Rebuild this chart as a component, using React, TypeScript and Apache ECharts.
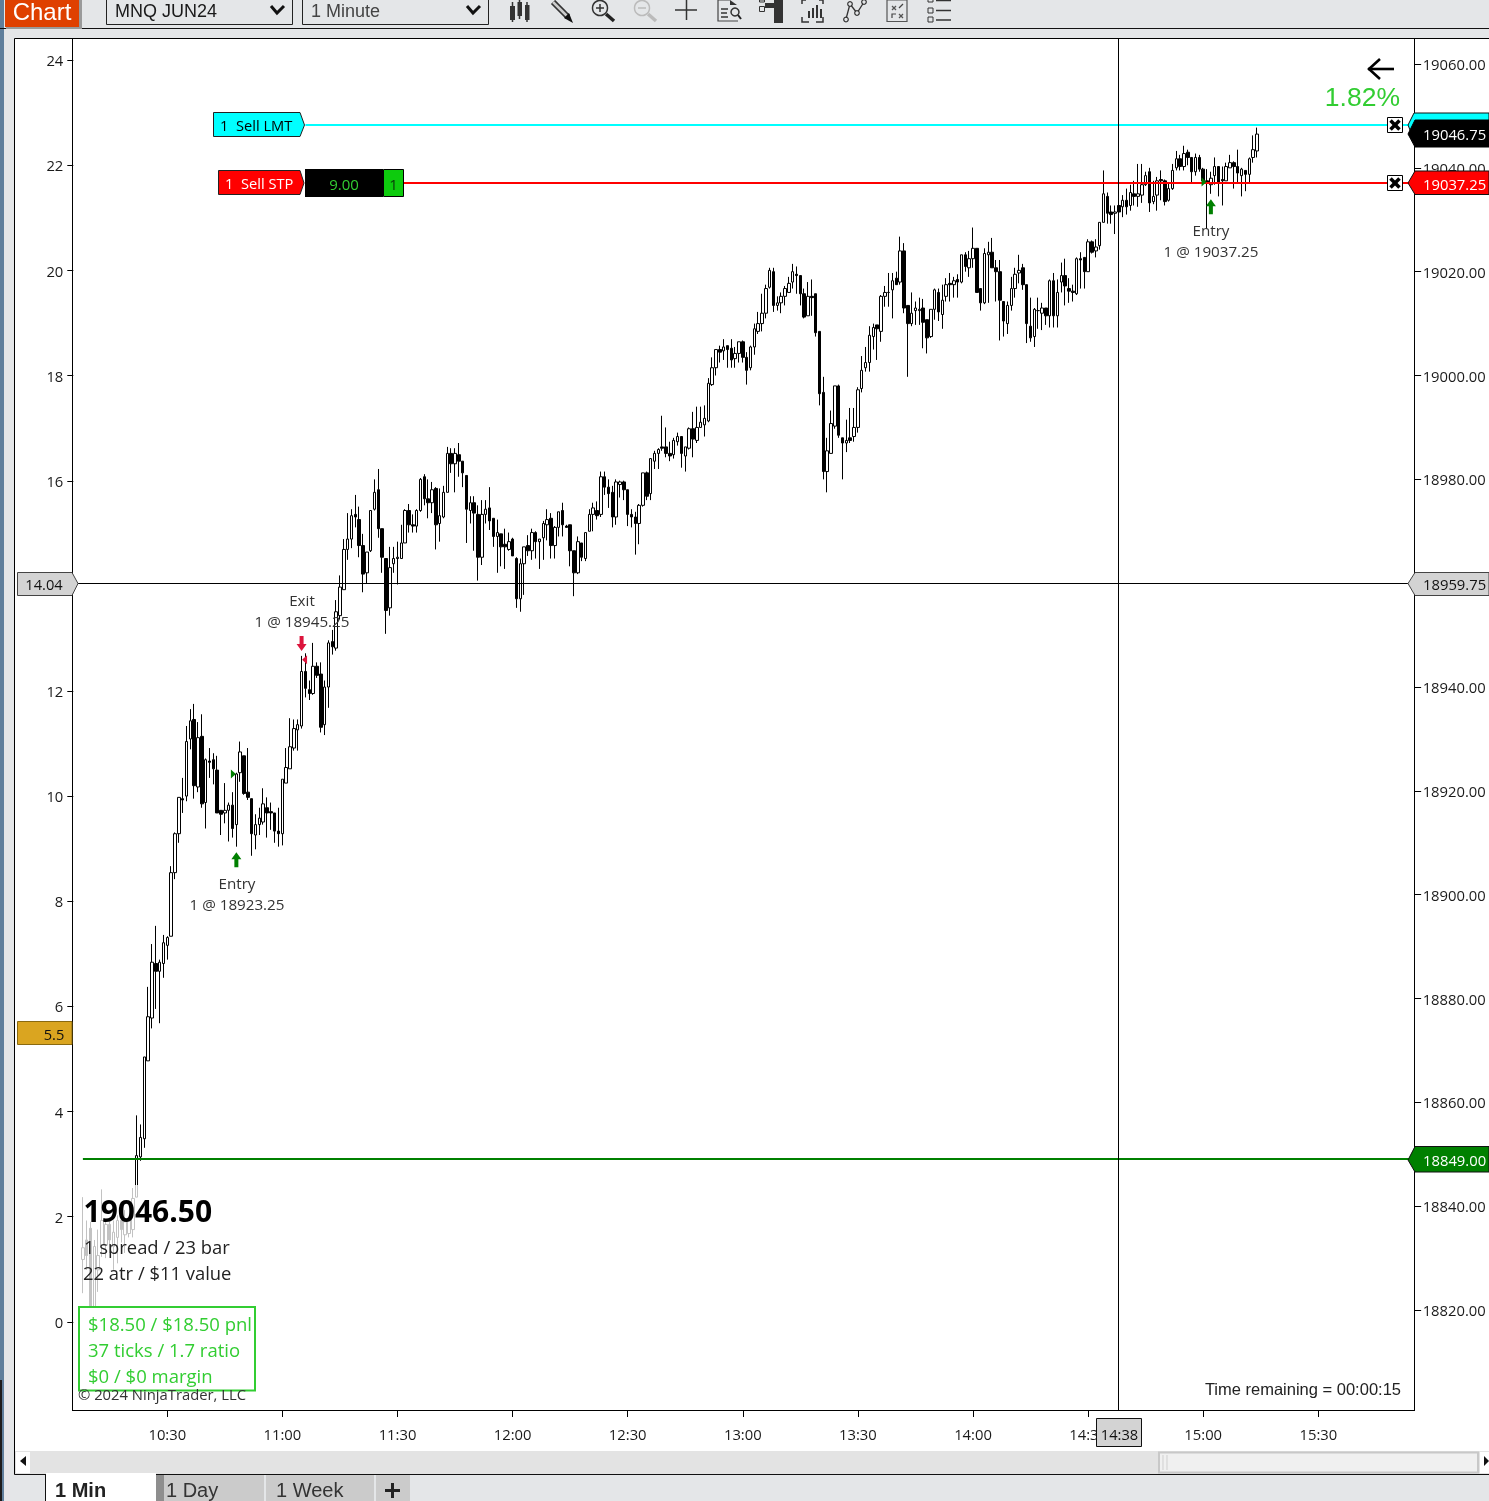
import React, { useEffect, useRef } from "react";
import * as echarts from "echarts";

const opens = [18829.75,18833.5,18835.75,18820,18827.75,18832.5,18832.5,18836.5,18832.25,18834,
18837.25,18834.5,18834.75,18835.5,18841.75,18849.5,18853,18868,18876.25,18886.75,
18885.25,18886.75,18890.25,18892,18904.25,18911.75,18918.5,18919,18930,18933.75,
18920.75,18930.5,18917.75,18925.75,18926,18924,18916.25,18915.75,18916.25,18917.25,
18913.5,18923.5,18926.75,18919.75,18918.5,18911.5,18913.5,18914,18916.75,18916,
18915.75,18912.25,18911.75,18921.5,18924.25,18928.25,18931.75,18932.5,18943,18939.5,
18938.75,18944,18942.5,18932.75,18940,18948.75,18947.5,18953.75,18958.75,18966.5,
18968.5,18973.25,18972.25,18967.25,18962,18966.25,18974.25,18978,18970.5,18964.75,
18955.25,18963.75,18964.75,18964.75,18967.75,18974,18971.25,18971,18974,18980.5,
18976.25,18975.5,18978.25,18971.5,18972.75,18977.5,18985,18983,18984.75,18983.5,
18980.75,18974,18975.5,18973.25,18965,18973.25,18974.5,18972.5,18969,18969.5,
18967.5,18966.5,18968.5,18964.75,18957,18963.75,18967.25,18966.25,18969.75,18968,
18968.75,18971.25,18972.5,18967.25,18970.75,18974,18971,18971.25,18966.25,18962,
18967.75,18964.75,18970,18973.25,18974,18973.25,18980.5,18978.5,18977.5,18972.75,
18979,18979.5,18978,18973.25,18972.75,18971.5,18975,18981.25,18977.25,18983.5,
18985,18986.25,18986.25,18985,18984.75,18987.25,18988.25,18984.5,18986,18989.75,
18987.5,18990,18990.5,18991.25,18998.25,19001.5,19005,19004.75,19005.75,19005.25,
19003.25,19004.25,19006.5,19003.5,19001.5,19005.5,19008.5,19010,19012,19017,
19020,19013.5,19014,19015.25,19016,19018,19019.5,19019.25,19015.75,19011.5,
19015.25,19015.75,19008.5,18996.75,18981.5,18985,18990.25,18998,18988,18987,
18988,18988.25,18990,18997.5,19001.5,19002.5,19007.5,19009.75,19008.5,19015.25,
19016,19016.5,19018.75,19018,19024,19013.5,19010,19012.5,19012.5,19013,
19010.75,19007.5,19012.75,19016,19011.75,19015.25,19017.75,19017.5,19018.5,19018,
19023.25,19020.75,19022.5,19024.5,19016.75,19014,19023.25,19023.75,19020.75,19020,
19014.25,19010,19013.5,19016.75,19019.75,19020.75,19017.5,19009.5,19007.5,19012.5,
19012,19013,19011.5,19018.25,19011.5,19018,19019.25,19016.75,19016.25,19015.75,
19022.5,19022.75,19020,19025.75,19024,19025,19029.5,19034.5,19031.5,19031.25,
19032.75,19032.5,19033.75,19032.75,19035,19034.5,19034.75,19036.75,19039.25,19033.5,
19034.75,19037.75,19037.5,19033.75,19036,19040,19041.75,19040.25,19043,19042,
19039.25,19042,19039.75,19037.5,19036.75,19038.5,19040.25,19037.75,19037.5,19040,
19041,19040.25,19038.5,19039.5,19038.75,19042,19043.25];

const closes = [18832,18830.5,18820,18832.25,18830.5,18837.25,18836.5,18833.5,18835,18837.25,
18835.5,18837,18837.25,18841.5,18849.75,18853.25,18868.75,18876.5,18887,18885.25,
18887,18890.75,18891.75,18904.25,18911.75,18918.75,18918.25,18929.5,18933.5,18921,
18930.25,18917.5,18926,18925.5,18924.25,18915.75,18915.5,18916.25,18917.25,18912.75,
18923.25,18927.5,18919.5,18918.75,18911.75,18913.5,18914.75,18917.5,18915.75,18915.75,
18912.25,18911.75,18922.25,18924.5,18928.5,18932,18932.75,18943,18939.75,18938.75,
18944,18942.25,18932.25,18940,18948.5,18947.75,18954.5,18959.25,18966.5,18968.5,
18973,18972.75,18967.25,18961.75,18966,18974,18977.5,18970.5,18965,18954.75,
18963,18964.75,18965,18967.75,18974,18971.25,18971,18974,18980,18976.25,
18975.5,18978,18971.25,18973,18977.5,18985,18983,18985,18983.5,18981.25,
18974.25,18975.5,18973.5,18965,18973.25,18974.25,18972,18969,18969.75,18967,
18967,18968,18965.25,18957,18963.75,18967,18966.25,18969.75,18968,18968.5,
18971.5,18972.25,18967.25,18970.75,18973.75,18971.25,18970.75,18966.25,18962,18968,
18965,18969.75,18973.25,18974.5,18973,18980.5,18978.5,18977.25,18972.75,18979.5,
18979.5,18978,18973.25,18972.75,18971.5,18975,18981.25,18976.75,18984,18985,
18985.75,18986,18985,18984.5,18987.5,18988.25,18985,18986.25,18989.75,18987.75,
18990,18991,18991.75,18998.5,19001.5,19005,19004.5,19005.5,19005,19003,
19004.25,19006.5,19003.5,19001,19005.5,19009,19010,19012,19016.75,19020.25,
19013.5,19014,19015.25,19016.75,19017.75,19020,19019.25,19015.75,19011.25,19015.25,
19015,19008.25,18996.5,18981.5,18985.5,18990.75,18998,18988.5,18987,18987.5,
18987.5,18990,18997.25,19001,19002.5,19007.75,19009.25,19009,19015.25,19016,
19016,19018.25,19017.5,19024,19013,19010,19012,19013,19012.75,19010.25,
19007.25,19012.75,19016.5,19012.25,19014.5,19017.5,19017.5,19018.25,19018,19023.25,
19021,19022.5,19024.5,19016,19014,19023.5,19023.75,19020.75,19020,19014.5,
19010.5,19013.5,19016.75,19019.5,19020.25,19017.5,19010,19007.25,19012.75,19012.5,
19013,19011.5,19018.25,19011.5,19016,19019.25,19017.25,19016.25,19016,19022.5,
19022.25,19020,19025.75,19023.75,19024.75,19029.5,19035,19031.25,19031,19031.5,
19031.5,19033.75,19032.5,19035.25,19034.5,19035,19036.75,19038.5,19033.25,19034.5,
19037.5,19037.5,19033.5,19036,19039.5,19041.75,19040.25,19042.75,19042,19039.25,
19042,19039.75,19037.5,19037,19038,19040.25,19037.25,19037.5,19040.25,19041,
19040.25,19039,19039.75,19038.75,19041.75,19043.5,19046.5];

const lows = [18823.25,18827.75,18817,18818,18823.5,18830.25,18830,18831,18827.75,18829,
18833,18831,18834,18834,18841.75,18848.75,18851.25,18868,18874.25,18878,
18875.25,18884,18887.5,18892,18903,18910,18915.75,18918,18928,18918.5,
18919.75,18916.75,18912.75,18922.5,18921.25,18915.75,18911.5,18913.75,18910.25,18911,
18909.25,18921.75,18919.25,18918.25,18907.5,18908.75,18911.5,18913.5,18911,18912.5,
18910,18909.25,18909.5,18921.5,18924.25,18927.75,18927.75,18932,18938,18937.5,
18938.5,18941.75,18931.25,18930.75,18936,18946.25,18947,18953,18958.75,18964.5,
18966.75,18970.75,18965,18958.25,18960,18966,18974,18968.75,18962,18950.25,
18953.75,18962,18959.75,18964.75,18967.75,18969.75,18969.75,18969.75,18973.75,18975,
18972.5,18973.5,18966.5,18968,18972.5,18977.5,18981.25,18977.5,18980.5,18978.5,
18967.75,18971.5,18966.25,18960.5,18963.5,18971.5,18970.25,18967,18962,18963.25,
18962.75,18966.25,18965.25,18955.25,18954.5,18957.75,18965.25,18964.5,18964.75,18962.75,
18964.5,18968.25,18964.75,18964.75,18969,18969,18970.75,18963.25,18957.5,18961.75,
18964.25,18964.25,18970,18970,18972.25,18972.75,18977,18974.5,18970.75,18971.25,
18976.5,18976,18971,18970.75,18965.5,18967.5,18974.75,18976,18976,18982,
18982,18985.5,18984.25,18983.5,18984,18986.5,18982.25,18981.5,18985.75,18984.25,
18987,18990,18988.25,18991,18998,19000,19002.5,19003,19001.5,19001.5,
19001.5,19002.5,19002.5,18998.25,19001,19004,19008,19008.5,19011,19016.75,
19012.25,19012.5,19012,19013.5,19016,19016.75,19015.75,19013.5,19011,19011.5,
19011.5,19007.5,18994.25,18980,18977.5,18985,18989.75,18988,18980,18985.25,
18987,18987.25,18989,18996.75,19000.75,19000.75,19005,19003,19006.5,19013.25,
19013.25,19011,19017.5,19017.5,19012,18999.75,19009.5,19009.75,19009.75,19005.25,
19004.25,19007.25,19010.75,19010.5,19009,19014.25,19014.25,19015,19015,19017.75,
19020,19019,19020.75,19016,19012.5,19013.75,19014,19020.75,19014.25,19006.75,
19007.5,19008,19012.5,19015,19017.75,19016.5,19006.25,19006.5,19005.5,19009,
19008.75,19009.75,19009.25,19009.25,19009.25,19016,19013.5,19014,19014.25,19015.5,
19016.75,19016.75,19020,19023.5,19022.75,19024.25,19029.5,19029.25,19029.25,19027.25,
19031,19030.5,19031,19031.75,19032.75,19032.5,19033.25,19036.5,19031.5,19033,
19031.75,19033.75,19032.75,19033.5,19035.75,19039.5,19039.5,19039.5,19040.5,19037.25,
19038.5,19039.25,19037.25,19028.25,19035,19036.75,19034.5,19032.75,19037.5,19040,
19036,19037,19034.5,19035.5,19037,19041,19042];

const highs = [18841.75,18837.25,18837,18833.5,18835.5,18843.25,18837.25,18837.25,18837.25,18838.25,
18839.75,18839.25,18838,18843.5,18857.5,18855.75,18868.75,18882.25,18890.5,18894,
18887.5,18892.25,18892,18905.5,18912,18918.75,18922.5,18932.5,18935.75,18936.75,
18933.25,18934.75,18926.25,18928.25,18927.25,18926.75,18916.25,18921.5,18917.75,18919.75,
18923.5,18929.5,18926.75,18928.25,18918.5,18915.5,18916.75,18920.5,18918.75,18917.75,
18915.75,18916.75,18922.25,18928.25,18934,18933.75,18933.75,18946,18946.5,18941.25,
18948.5,18944.75,18944.75,18941.25,18949,18951,18956.75,18961.5,18968.5,18973.5,
18974.25,18977,18974.75,18969.5,18966,18974,18980,18982,18970.5,18964.75,
18967,18967,18968,18971.25,18974.25,18975.25,18973.25,18974.25,18980.25,18981,
18980,18979.5,18978.5,18978.25,18978.75,18986.25,18986,18986,18987,18983.5,
18980.75,18976.75,18976.75,18975,18976,18976,18978.5,18972.5,18972.25,18969.5,
18970.5,18969.75,18968.75,18965,18964.75,18967,18969.25,18970.5,18970,18968.5,
18972,18974.25,18973.5,18971,18973.75,18975.5,18971.25,18971.25,18966.25,18969,
18967.75,18969.75,18974.25,18975.5,18975.75,18981.5,18981.5,18980,18978.75,18980,
18979.75,18979.75,18978,18974.25,18973.75,18975.25,18981.25,18981.5,18984,18985.5,
18986,18992.25,18990,18987.25,18988,18989,18988.25,18986.25,18990,18993,
18994,18994,18994.25,18999.5,19003.5,19005,19005.75,19007,19005.75,19007,
19005.5,19006.5,19006.75,19004.5,19005.75,19010,19012.25,19015.75,19017.5,19020.75,
19020.75,19015.25,19016,19017.25,19019,19021.5,19021,19019.25,19016.75,19018,
19018.5,19015.75,19008.5,18999.75,18988,18993.25,18998,18998.25,18988,18991.5,
18993.75,18993.75,18997.75,19003.75,19005.5,19009.5,19010,19009.75,19015.5,19017.25,
19019.75,19019.75,19020,19026.75,19025.5,19013.5,19016,19014.25,19015,19014.75,
19010.75,19012.75,19016.75,19016.75,19017.5,19018.75,19019.75,19019,19019.5,19023.25,
19023.75,19024,19028.5,19024.5,19016.75,19024.5,19025.75,19026.5,19022.25,19022.25,
19014.25,19014.25,19019,19020.75,19023.25,19021.5,19017.5,19015,19013,19015,
19014,19013,19018.5,19019.75,19018.5,19021.75,19022.5,19018.75,19017.5,19022.75,
19023.75,19022.75,19026.25,19026,19026.25,19029.5,19039.5,19035.25,19032.75,19032.75,
19034,19034.75,19036,19036.75,19037.5,19040.75,19040.75,19039.25,19040,19037.5,
19038.25,19039.5,19037.75,19037,19040.75,19043.25,19042.5,19044.25,19043.5,19042,
19042.75,19042.5,19040,19039.75,19039.25,19042,19040.25,19040.25,19041,19042.5,
19041.25,19043.5,19040,19039.5,19042,19046.25,19047.75];

const priceTicks = [19060, 19040, 19020, 19000, 18980, 18960, 18940, 18920, 18900, 18880, 18860, 18840, 18820];
const indicatorTicks = [24, 22, 20, 18, 16, 14, 12, 10, 8, 6, 4, 2, 0];
const timeLabels = ["10:30", "11:00", "11:30", "12:00", "12:30", "13:00", "13:30", "14:00", "14:30", "15:00", "15:30"];

const limitPrice = 19048.25;
const stopPrice = 19037.1;
const levelPrice = 18849.2;

const entryArrows = [["10:48", 18906.75], ["15:02", 19032.5]];
const exitArrows = [["11:05", 18948.4]];
const entryTicks = [["10:48", 18923.25], ["15:01", 19037.25]];
const exitTicks = [["11:05", 18945.25]];

const pad = (n: number) => String(n).padStart(2, "0");
const categories: string[] = [];
for (let m = 10 * 60 + 6; m < 10 * 60 + 6 + 350; m++) categories.push(`${pad(Math.floor(m / 60))}:${pad(m % 60)}`);
const candles = opens.map((o, i) => [categories[i + 2], o, closes[i], lows[i], highs[i]]);

const UI = '"Open Sans"';
const ARIAL = '"Liberation Sans"';
const GREEN = "#32CD32";

const text = (t: string, x: number, y: number, size: number, fill: string, o: any = {}) => ({
  type: "text", z: o.z ?? 30, silent: true,
  style: {
    text: t, x, y, fill,
    font: `${o.weight ?? "normal"} ${size}px ${o.family ?? UI}`,
    textAlign: o.align ?? "left", textVerticalAlign: "middle",
  },
});
const rect = (x: number, y: number, width: number, height: number, fill: string, stroke?: string, z = 20, lineWidth = 1) => ({
  type: "rect", z, silent: true, shape: { x, y, width, height }, style: { fill, stroke: stroke ?? "none", lineWidth },
});
const line = (x1: number, y1: number, x2: number, y2: number, stroke: string, lineWidth = 1, z = 20) => ({
  type: "line", z, silent: true, shape: { x1, y1, x2, y2 }, style: { stroke, lineWidth },
});
const poly = (points: number[][], fill: string, stroke?: string, z = 20, lineWidth = 1) => ({
  type: "polygon", z, silent: true, shape: { points }, style: { fill, stroke: stroke ?? "none", lineWidth },
});
const pline = (points: number[][], stroke: string, lineWidth = 1, z = 20) => ({
  type: "polyline", z, silent: true, shape: { points }, style: { fill: "none", stroke, lineWidth },
});
const circle = (cx: number, cy: number, r: number, stroke: string, lineWidth = 1, fill = "none", z = 20) => ({
  type: "circle", z, silent: true, shape: { cx, cy, r }, style: { fill, stroke, lineWidth },
});

const closeBox = (x: number, y: number) => [
  rect(x + 0.5, y + 0.5, 15, 15, "#fff", "#000", 22, 1),
  line(x + 3.5, y + 3.5, x + 12.5, y + 12.5, "#000", 3.5, 23),
  line(x + 12.5, y + 3.5, x + 3.5, y + 12.5, "#000", 3.5, 23),
];

const background = [
  rect(0, 0, 1489, 1501, "#E4E6E8", undefined, -20),
  rect(0, 0, 4, 1501, "#5F7F9C", undefined, -19),
  rect(0, 1380, 2, 121, "#1c1c1c", undefined, -19),
  rect(14.5, 38.5, 1480, 1436, "#FFFFFF", "#000000", -18),
];

const frame = [
  line(72.5, 39, 72.5, 1411, "#000", 1, 6),
  line(1414.5, 39, 1414.5, 1411, "#000", 1, 6),
  line(72, 1410.5, 1415, 1410.5, "#000", 1, 6),
  // crosshair cursor
  line(1118.5, 39, 1118.5, 1410, "#000", 1, 6),
  line(73, 583.5, 1414, 583.5, "#000", 1, 6),
];

const toolbar = [
  rect(0, 28, 1489, 1, "#111", undefined, 10),
  rect(6, 0, 76, 29, "#9a9a9a", undefined, 11),
  rect(5, 0, 74, 27, "#DF4000", undefined, 12),
  text("Chart", 42, 11, 24, "#fff", { family: ARIAL, align: "center", z: 13 }),
  rect(106.5, -2, 186, 26.5, "#E4E6E8", "#222", 12),
  text("MNQ JUN24", 115, 11, 18, "#1a1a1a", { family: ARIAL }),
  pline([[271, 6], [277, 13], [284, 6]], "#111", 3, 13),
  rect(302.5, -2, 186, 26.5, "#E4E6E8", "#222", 12),
  text("1 Minute", 311, 11, 18, "#444", { family: ARIAL }),
  pline([[467, 6], [473, 13], [480, 6]], "#111", 3, 13),
  // candles icon
  line(512.5, 2, 512.5, 22, "#333", 1.5), rect(510, 6, 5, 14, "#333"),
  line(519.5, 0, 519.5, 19, "#333", 1.5), rect(517.5, 2, 4.5, 14, "#333"),
  line(527, 2, 527, 22, "#333", 1.5), rect(525, 5, 4.5, 15, "#333"),
  // pencil
  line(553, 2, 568, 17, "#333", 6), line(553, 2, 568, 17, "#ccc", 2.5), poly([[564, 18], [569, 13], [573, 23]], "#111"),
  // zoom in
  circle(600, 8, 7.5, "#333", 1.5), line(596, 8, 604, 8, "#333", 1.5), line(600, 4, 600, 12, "#333", 1.5), line(606, 14, 614, 21, "#222", 3.5),
  // zoom out
  circle(642, 8, 7.5, "#bbb", 1.5), line(638, 8, 646, 8, "#bbb", 1.5), line(648, 14, 656, 21, "#bbb", 3.5),
  // crosshair
  line(675, 10, 697, 10, "#333", 1.5), line(686.5, 0, 686.5, 20, "#333", 1.5),
  // doc search
  pline([[730, 0], [718, 0], [718, 21], [738, 21]], "#444", 1.2), line(721, 9, 728, 9, "#333", 1.5), line(721, 13, 727, 13, "#333", 1.5), line(721, 17, 728, 17, "#333", 1.5), circle(735, 12, 4, "#333", 1.5), line(738, 15, 741, 19, "#222", 2), poly([[730, 0], [737, 5], [730, 5]], "#333"),
  // structure
  rect(774, 0, 9, 23, "#333"), rect(765, 3, 9, 5, "#333"), rect(759.5, 6.5, 5, 5, "none", "#333"), rect(759.5, 0, 5, 2, "none", "#333"),
  // chart bars
  rect(812, 8, 2, 10, "#333"), rect(808, 11, 2, 7, "#333"), rect(816, 5, 2, 13, "#333"), rect(820, 9, 2, 9, "#333"),
  pline([[802, 17], [802, 22], [809, 22]], "#333", 1.5), pline([[816, 22], [823, 22], [823, 17]], "#333", 1.5), pline([[802, 4], [802, 0], [806, 0]], "#333", 1.5), pline([[819, 0], [823, 0], [823, 4]], "#333", 1.5),
  // nodes
  pline([[846, 19], [850, 4], [857, 13], [864, 2]], "#333", 1.3), circle(846, 19.5, 2.3, "#333", 1.2, "#E4E6E8"), circle(850, 4, 2.3, "#333", 1.2, "#E4E6E8"), circle(857, 13, 2.3, "#333", 1.2, "#E4E6E8"), circle(864, 2, 2.3, "#333", 1.2, "#E4E6E8"),
  // clipboard
  rect(887, 0, 20, 21.5, "none", "#555", 20, 1.2), line(892, 6, 896, 10, "#555", 1.2), line(896, 6, 892, 10, "#555", 1.2), line(899, 8, 903, 4, "#444", 1.2), pline([[892, 18], [892, 14], [896, 14]], "#444", 1.2), line(899, 14, 903, 18, "#555", 1.2), line(903, 14, 899, 18, "#555", 1.2),
  // list
  rect(928, -3, 5, 5, "none", "#333"), rect(928, 8, 5, 5, "none", "#333"), rect(928, 17, 5, 5, "none", "#333"),
  line(936, 0.5, 951, 0.5, "#333", 1.5), line(936, 10.5, 951, 10.5, "#333", 1.5), line(936, 20, 951, 20, "#333", 1.5),
];

const orderTags = [
  poly([[213.5, 112.5], [300, 112.5], [304.5, 125], [300, 136.5], [213.5, 136.5]], "#00FFFF", "#222"),
  text("1  Sell LMT", 220, 125, 14.67, "#000"),
  poly([[218.5, 170.5], [300, 170.5], [304, 183], [300, 194.5], [218.5, 194.5]], "#FF0000", "#222"),
  text("1  Sell STP", 225, 183, 14.67, "#fff"),
  rect(305, 169, 78, 28, "#000", undefined, 20),
  text("9.00", 344, 184, 15, GREEN, { align: "center" }),
  rect(383.5, 169.5, 20, 27, "#0DCB0D", "#000"),
  text("1", 393.5, 184, 15, "#0a3a0a", { align: "center" }),
  ...closeBox(1387, 117),
  ...closeBox(1387, 175),
  // right axis tags
  poly([[1408, 125], [1414, 113], [1489, 113], [1489, 140], [1414, 140]], "#00FFFF", "#111", 21),
  poly([[1408, 134], [1415, 120], [1489, 120], [1489, 147], [1415, 147]], "#000", "#000", 22),
  text("19046.75", 1423, 133.5, 14.8, "#fff", { z: 31 }),
  poly([[1408, 183], [1415, 171], [1489, 171], [1489, 194.5], [1415, 194.5]], "#FF0000", "#111", 21),
  text("19037.25", 1423, 183.5, 14.8, "#fff", { z: 31 }),
  poly([[1408, 1160], [1415, 1146.5], [1489, 1146.5], [1489, 1172], [1415, 1172]], "#008000", "#111", 21),
  text("18849.00", 1423, 1159.5, 14.8, "#fff", { z: 31 }),
  poly([[1408, 583.5], [1415, 572.5], [1489, 572.5], [1489, 595.5], [1415, 595.5]], "#D3D3D3", "#444", 21),
  text("18959.75", 1423, 583.5, 14.8, "#111", { z: 31 }),
  // left axis tags
  poly([[17.5, 572.5], [72, 572.5], [78, 583.5], [72, 595.5], [17.5, 595.5]], "#D3D3D3", "#444", 21),
  text("14.04", 44, 583.5, 14.67, "#111", { align: "center", z: 31 }),
  rect(17.5, 1021.5, 54.5, 23, "#DAA520", "#8a6a10", 21),
  text("5.5", 54, 1033.5, 14.67, "#111", { align: "center", z: 31 }),
  // bottom crosshair tag
  rect(1096.5, 1418.5, 45, 28, "#D3D3D3", "#111", 21),
  text("14:38", 1119.5, 1433.5, 14.67, "#111", { align: "center", z: 31 }),
];

const annotations = [
  text("Exit", 302, 600, 15.2, "#333", { align: "center" }),
  text("1 @ 18945.25", 302, 620.5, 15.2, "#333", { align: "center" }),
  text("Entry", 237, 883, 15.2, "#333", { align: "center" }),
  text("1 @ 18923.25", 237, 903.5, 15.2, "#333", { align: "center" }),
  text("Entry", 1211, 230, 15.2, "#333", { align: "center" }),
  text("1 @ 19037.25", 1211, 251, 15.2, "#333", { align: "center" }),
  line(1368, 69, 1394, 69, "#000", 2.6),
  pline([[1380, 59], [1369, 69], [1380, 79]], "#000", 2.6),
  text("1.82%", 1400, 97, 26.5, GREEN, { align: "right", family: ARIAL }),
  text("Time remaining = 00:00:15", 1401, 1389, 16.5, "#222", { align: "right", family: ARIAL }),
];

const infoPanel = [
  rect(79, 1185, 176, 122, "rgba(255,255,255,0.76)", undefined, 8),
  text("19046.50", 83.5, 1210, 30, "#000", { weight: "bold" }),
  text("1 spread / 23 bar", 84, 1246, 18.4, "#222"),
  text("22 atr / $11 value", 83, 1272, 18.4, "#222"),
  rect(79, 1307, 176, 83.5, "#fff", GREEN, 9, 2),
  text("$18.50 / $18.50 pnl", 88, 1323.5, 18.5, GREEN),
  text("37 ticks / 1.7 ratio", 88, 1349.5, 18.5, GREEN),
  text("$0 / $0 margin", 88, 1375.5, 18.5, GREEN),
  text("\u00A9 2024 NinjaTrader, LLC", 78, 1393.5, 14.8, "#333"),
];

const bottomBar = [
  rect(15, 1451, 1474, 23, "#E3E3E3", undefined, 10),
  rect(16, 1452, 14, 21, "#fff", undefined, 11),
  poly([[26, 1456], [26, 1466], [20, 1461]], "#111", undefined, 12),
  rect(1480, 1452, 9, 21, "#fff", undefined, 11),
  poly([[1484, 1456], [1484, 1466], [1489, 1461]], "#111", undefined, 12),
  rect(1159, 1452.5, 319, 20, "#F0F0F0", "#C8C8C8", 11, 2),
  line(1163, 1455, 1163, 1470, "#cfcfcf", 1, 12), line(1167, 1455, 1167, 1470, "#cfcfcf", 1, 12),
  rect(15, 1474, 1474, 1, "#111", undefined, 12),
  rect(46, 1473, 110, 28, "#fff", undefined, 13),
  line(45.5, 1474, 45.5, 1501, "#111", 1, 13),
  rect(156, 1475, 108, 26, "#CBCBCB", undefined, 13),
  rect(156, 1475, 8, 26, "#8e8e8e", undefined, 13),
  rect(266, 1475, 108, 26, "#CBCBCB", undefined, 13),
  rect(376, 1475, 34, 26, "#CBCBCB", undefined, 13),
  text("1 Min", 55, 1490, 20, "#222", { weight: "bold", family: ARIAL }),
  text("1 Day", 166, 1490, 20, "#333", { family: ARIAL }),
  text("1 Week", 276, 1490, 20, "#333", { family: ARIAL }),
  line(385, 1490.5, 400, 1490.5, "#222", 3, 14), line(392.5, 1483, 392.5, 1498, "#222", 3, 14),
];

const axisFont = { color: "#1a1a1a", fontFamily: "Open Sans", fontSize: 14.8 };
const isTimeTick = (_: number, v: string) => timeLabels.includes(v);
const segment = (a: string, b: string, price: number, color: string) => [
  { coord: [a, price], lineStyle: { color, width: 2 } },
  { coord: [b, price] },
];
const arrowUp = "path://M5 0L10 7L7 7L7 15L3 15L3 7L0 7Z";
const arrowDown = "path://M3 0L7 0L7 8L10 8L5 15L0 8L3 8Z";

export default function App() {
  const ref = useRef<HTMLDivElement>(null);
  useEffect(() => {
    document.body.style.margin = "0";
    document.body.style.overflow = "hidden";
    const chart = echarts.init(ref.current!, undefined, { renderer: "svg" });
    chart.setOption({
      animation: false,
      backgroundColor: "transparent",
      grid: { left: 73.3, top: 39, width: 1342.85, height: 1372 },
      xAxis: {
        type: "category", data: categories, boundaryGap: true,
        axisLine: { show: false, onZero: false },
        axisTick: { show: true, alignWithLabel: true, interval: isTimeTick, length: 6, lineStyle: { color: "#000" } },
        axisLabel: { ...axisFont, interval: isTimeTick, margin: 15, hideOverlap: false },
        splitLine: { show: false },
      },
      yAxis: [
        {
          type: "value", position: "left", min: -1.697, max: 24.405, scale: false,
          axisLine: { show: false },
          axisTick: { show: true, length: 6, customValues: indicatorTicks, lineStyle: { color: "#000" } },
          axisLabel: { ...axisFont, margin: 10, customValues: indicatorTicks, formatter: (v: number) => String(v) },
          splitLine: { show: false },
        },
        {
          type: "value", position: "right", min: 18800.56, max: 19064.815, scale: false, offset: -2,
          axisLine: { show: false },
          axisTick: { show: true, length: 7, customValues: priceTicks, lineStyle: { color: "#000" } },
          axisLabel: { ...axisFont, margin: 8.5, customValues: priceTicks, formatter: (v: number) => v.toFixed(2) },
          splitLine: { show: false },
        },
      ],
      series: [
        {
          type: "candlestick", name: "MNQ JUN24", xAxisIndex: 0, yAxisIndex: 1, barWidth: 3,
          encode: { x: 0, y: [1, 2, 3, 4] },
          data: candles,
          itemStyle: { color: "#fff", color0: "#000", borderColor: "#000", borderColor0: "#000", borderColorDoji: "#000", borderWidth: 1 },
          silent: true,
          markLine: {
            silent: true, symbol: "none", label: { show: false }, animation: false,
            lineStyle: { type: "solid", color: "#000", width: 1 },
            data: [
              segment("11:06", "15:55", limitPrice, "#00FFFF"),
              segment("11:31", "15:55", stopPrice, "#FF0000"),
              segment("10:08", "15:55", levelPrice, "#008000"),
            ],
          },
        },
        { type: "scatter", name: "Entry", yAxisIndex: 1, z: 5, silent: true, symbol: arrowUp, symbolSize: [10, 15], data: entryArrows, itemStyle: { color: "#008000", opacity: 1 } },
        { type: "scatter", name: "Exit", yAxisIndex: 1, z: 5, silent: true, symbol: arrowDown, symbolSize: [10, 15], data: exitArrows, itemStyle: { color: "#DC143C", opacity: 1 } },
        { type: "scatter", name: "Entry fill", yAxisIndex: 1, z: 5, silent: true, symbol: "path://M0 0L10 10L0 20Z", symbolSize: [5, 9], symbolOffset: [-3, 0], data: entryTicks, itemStyle: { color: "#008000", opacity: 1 } },
        { type: "scatter", name: "Exit fill", yAxisIndex: 1, z: 5, silent: true, symbol: "path://M10 0L10 20L0 10Z", symbolSize: [5, 9], symbolOffset: [3, 0], data: exitTicks, itemStyle: { color: "#DC143C", opacity: 1 } },
      ],
      graphic: {
        elements: [...background, ...frame, ...toolbar, ...orderTags, ...annotations, ...infoPanel, ...bottomBar],
      },
    });
    return () => chart.dispose();
  }, []);
  return <div ref={ref} style={{ position: "fixed", left: 0, top: 0, width: 1489, height: 1501 }} />;
}
